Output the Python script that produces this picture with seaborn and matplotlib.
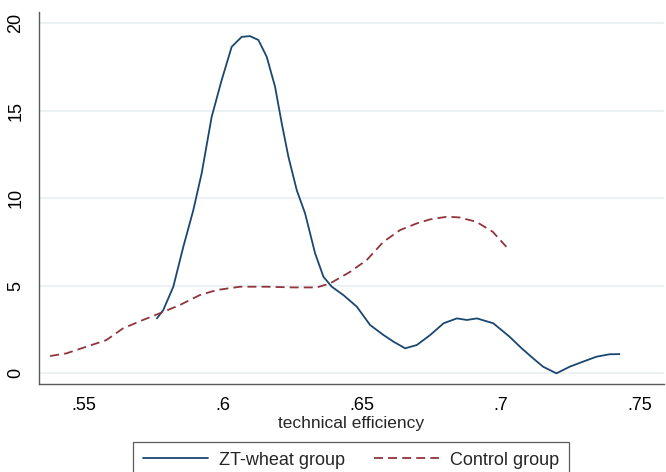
import numpy as np
import pandas as pd
import matplotlib
matplotlib.use("Agg")
import matplotlib.pyplot as plt
import seaborn as sns

# Kernel density estimates of technical efficiency, by group
zt_te = [0.5763, 0.5786, 0.5822, 0.5858, 0.5894, 0.5924, 0.5960, 0.5996, 0.6032,
         0.6068, 0.6098, 0.6128, 0.6158, 0.6188, 0.6212, 0.6236, 0.6266, 0.6296,
         0.6332, 0.6362, 0.6392, 0.6434, 0.6482, 0.6530, 0.6578, 0.6614, 0.6656,
         0.6698, 0.6746, 0.6794, 0.6842, 0.6878, 0.6914, 0.6973, 0.7031, 0.7075,
         0.7116, 0.7152, 0.7200, 0.7248, 0.7296, 0.7344, 0.7391, 0.7427]
zt_density = [3.14, 3.62, 4.95, 7.23, 9.33, 11.43, 14.66, 16.76, 18.66,
              19.23, 19.27, 19.05, 18.09, 16.38, 14.29, 12.38, 10.47, 9.14,
              6.86, 5.52, 4.95, 4.47, 3.81, 2.76, 2.19, 1.81, 1.43,
              1.62, 2.19, 2.86, 3.14, 3.05, 3.14, 2.86, 2.10, 1.43,
              0.86, 0.38, 0.00, 0.38, 0.67, 0.95, 1.09, 1.10]

ctrl_te = [0.5379, 0.5437, 0.5509, 0.5581, 0.5641, 0.5713, 0.5773, 0.5845, 0.5917,
           0.5978, 0.6062, 0.6158, 0.6254, 0.6338, 0.6386, 0.6458, 0.6518, 0.6578,
           0.6638, 0.6698, 0.6746, 0.6806, 0.6851, 0.6912, 0.6971, 0.7020]
ctrl_density = [0.99, 1.14, 1.52, 1.90, 2.57, 3.05, 3.43, 3.90, 4.47,
                4.76, 4.95, 4.95, 4.91, 4.91, 5.14, 5.80, 6.48, 7.52,
                8.19, 8.57, 8.80, 8.95, 8.91, 8.66, 8.09, 7.23]

x_ticks = [0.55, 0.60, 0.65, 0.70, 0.75]
x_tick_labels = [".55", ".6", ".65", ".7", ".75"]
y_ticks = [0, 5, 10, 15, 20]
y_tick_labels = ["0", "5", "10", "15", "20"]

group_labels = ["ZT-wheat group", "Control group"]

zt = pd.DataFrame({"te": zt_te, "density": zt_density})
ctrl = pd.DataFrame({"te": ctrl_te, "density": ctrl_density})

sns.set_style("white")
plt.rcParams["font.family"] = ["Liberation Sans", "DejaVu Sans"]

navy = "#1a476f"
maroon = "#90353b"
axis_grey = "#5a5a5a"

fig = plt.figure(figsize=(6.66, 4.72), dpi=100)
ax = fig.add_axes([0.0586, 0.1864, 0.9384, 0.7882])

sns.lineplot(data=zt, x="te", y="density", ax=ax, sort=False, color=navy,
             linewidth=1.3, label=group_labels[0])
sns.lineplot(data=ctrl, x="te", y="density", ax=ax, sort=False, color=maroon,
             linewidth=1.3, linestyle=(0, (5.0, 2.8)), label=group_labels[1])

ax.set_xlim(0.5339, 0.7587)
ax.set_ylim(-0.61, 20.65)

ax.set_xticks(x_ticks)
ax.set_xticklabels(x_tick_labels)
ax.set_yticks(y_ticks)
ax.set_yticklabels(y_tick_labels, rotation=90, va="center")

ax.yaxis.grid(True, color="#eaf1f3", linewidth=1.3)
ax.xaxis.grid(False)
ax.set_axisbelow(True)

for side in ("top", "right"):
    ax.spines[side].set_visible(False)
for side in ("left", "bottom"):
    ax.spines[side].set_color(axis_grey)
    ax.spines[side].set_linewidth(1.0)

ax.tick_params(axis="both", which="major", length=5.5, width=1.0, color=axis_grey,
               labelsize=13, labelcolor="black", direction="out", pad=4)
ax.tick_params(axis="y", pad=5)

ax.set_xlabel("technical efficiency", fontsize=12.5, labelpad=1)
ax.set_ylabel("")

ax.get_legend().remove()
handles, labels = ax.get_legend_handles_labels()
leg = fig.legend(handles, labels, loc="upper center", bbox_to_anchor=(0.527, 0.0642),
                 ncol=2, fontsize=13, frameon=True, fancybox=False,
                 edgecolor="#333333", handlelength=3.6, handletextpad=0.6,
                 columnspacing=1.65, borderpad=0.55, borderaxespad=0)
leg.get_frame().set_linewidth(0.9)

fig.savefig("out.png", dpi=100, facecolor="white")
